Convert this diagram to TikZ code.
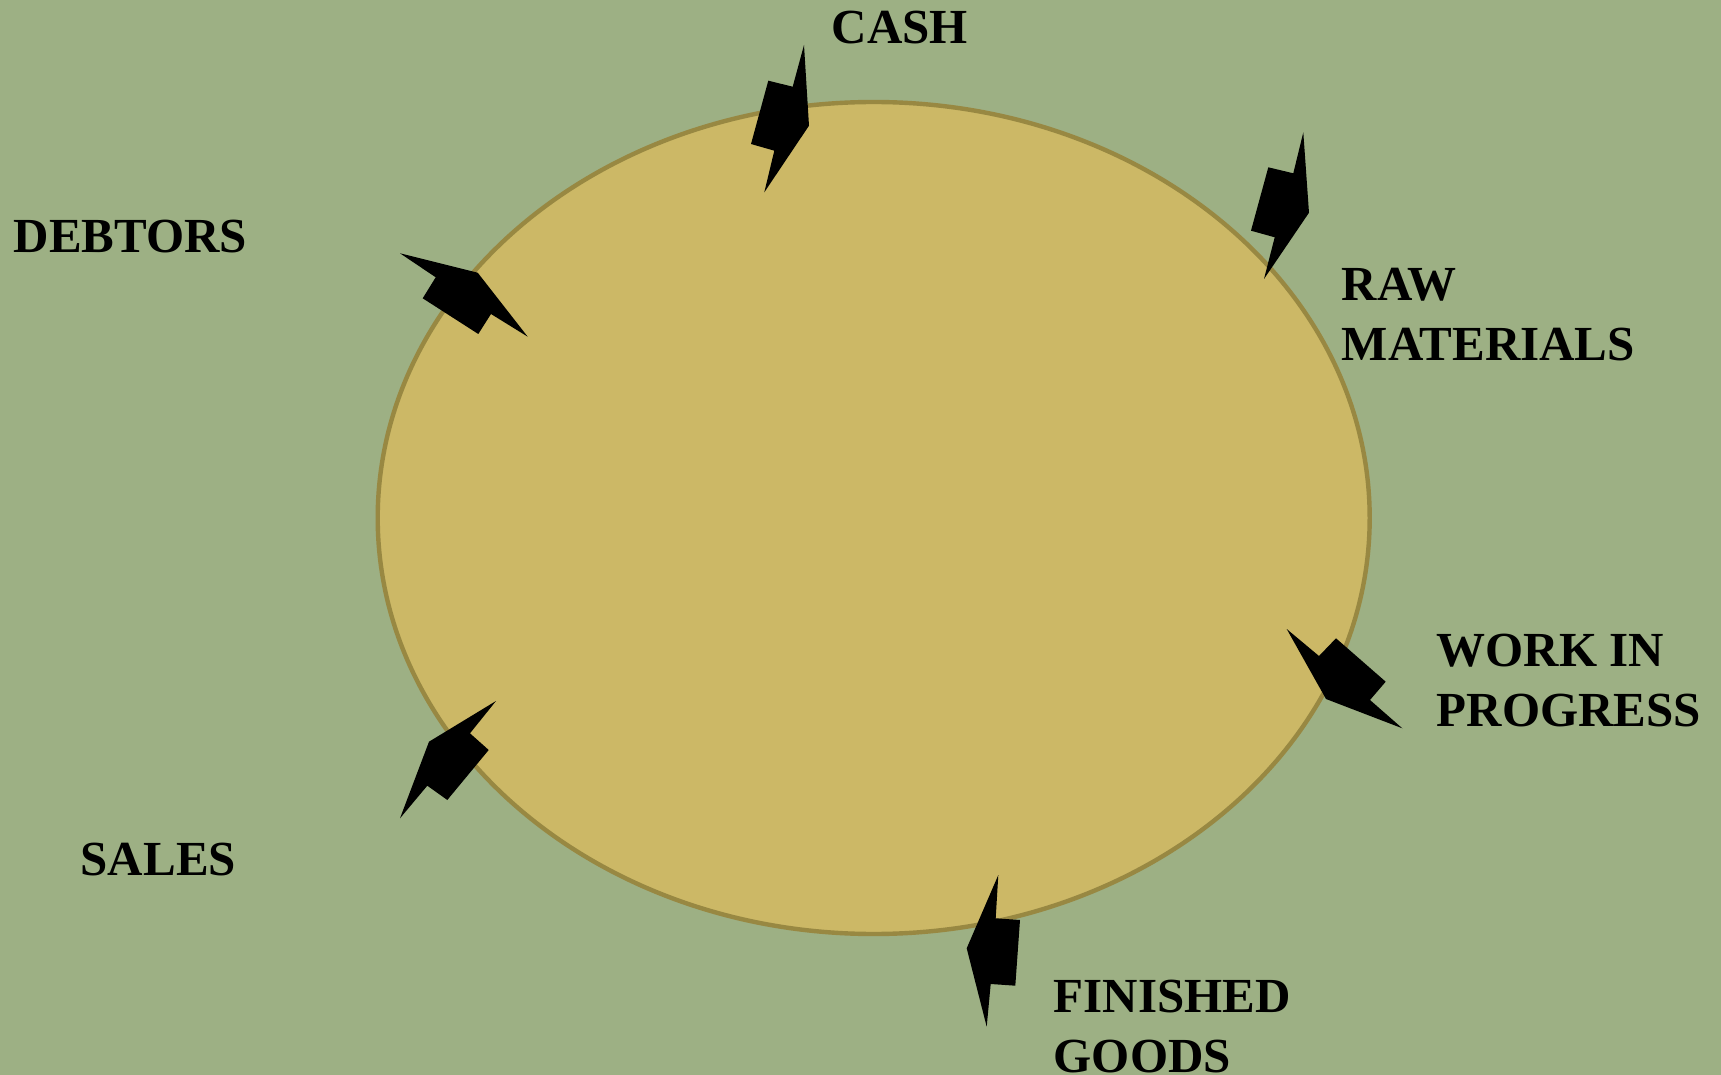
\documentclass[tikz,border=0pt]{standalone}
\usepackage{fontspec}
\setmainfont{Liberation Serif}
\definecolor{sagebg}{RGB}{157,176,132}
\definecolor{wheelfill}{RGB}{204,184,102}
\definecolor{wheeldraw}{RGB}{152,136,66}
\tikzset{every picture/.style={line width=0.75pt}}
\tikzset{
bolt/.style={fill=black, draw=none},
stage/.style={anchor=base west, inner sep=0pt, align=left, font=\fontsize{24.5}{29.85}\selectfont\bfseries}}

\begin{document}
\begin{tikzpicture}[x=0.5pt,y=-0.5pt]
\useasboundingbox (0,0) rectangle (1721,1075);
\fill [sagebg] (0,0) rectangle (1721,1075);

%Shape: Ellipse [id:wheel]
\draw [wheeldraw, fill=wheelfill, line width=2.2pt] (873.7,518) ellipse [x radius=496, y radius=416];

%Shape: Bolt [id:cash]
\fill [bolt] (804,45) -- (809,125.7) -- (764.3,192.3) -- (774.3,150.7) -- (751,144) -- (768.3,80.7) -- (792.7,86.7) -- cycle ;
%Shape: Bolt [id:raw]
\fill [bolt] (1303.3,132.3) -- (1309,212.7) -- (1264,279) -- (1274.7,237.3) -- (1251,230.7) -- (1268.3,167.3) -- (1293.3,173.3) -- cycle ;
%Shape: Bolt [id:wip]
\fill [bolt] (1286.7,629) -- (1319,656) -- (1336,638.3) -- (1385.7,681.7) -- (1370,700) -- (1402.3,728.3) -- (1326,699) -- cycle ;
%Shape: Bolt [id:finished]
\fill [bolt] (998.3,875) -- (995.7,918.3) -- (1020,920) -- (1015.3,985.7) -- (990.7,984) -- (986.7,1026.7) -- (966.7,948.3) -- cycle ;
%Shape: Bolt [id:sales]
\fill [bolt] (496,701) -- (470,733.3) -- (488.7,750) -- (447.3,800) -- (427.3,785.7) -- (400,818.3) -- (429,741.7) -- cycle ;
%Shape: Bolt [id:debtors]
\fill [bolt] (400,253.3) -- (477.7,272.7) -- (527.7,336.7) -- (491,314) -- (478.3,334) -- (422.7,298.3) -- (435.7,277.3) -- cycle ;

% Text Node (base = last line)
\node [stage] (cash) at (831,43.3) {CASH};
% Text Node
\node [stage] (raw) at (1341,360.5) {RAW\\MATERIALS};
% Text Node
\node [stage] (wip) at (1436,726) {WORK IN\\PROGRESS};
% Text Node
\node [stage] (finished) at (1053,1072) {FINISHED\\GOODS};
% Text Node
\node [stage] (sales) at (80,875) {SALES};
% Text Node
\node [stage] (debtors) at (13,252.3) {DEBTORS};

\end{tikzpicture}
\end{document}
